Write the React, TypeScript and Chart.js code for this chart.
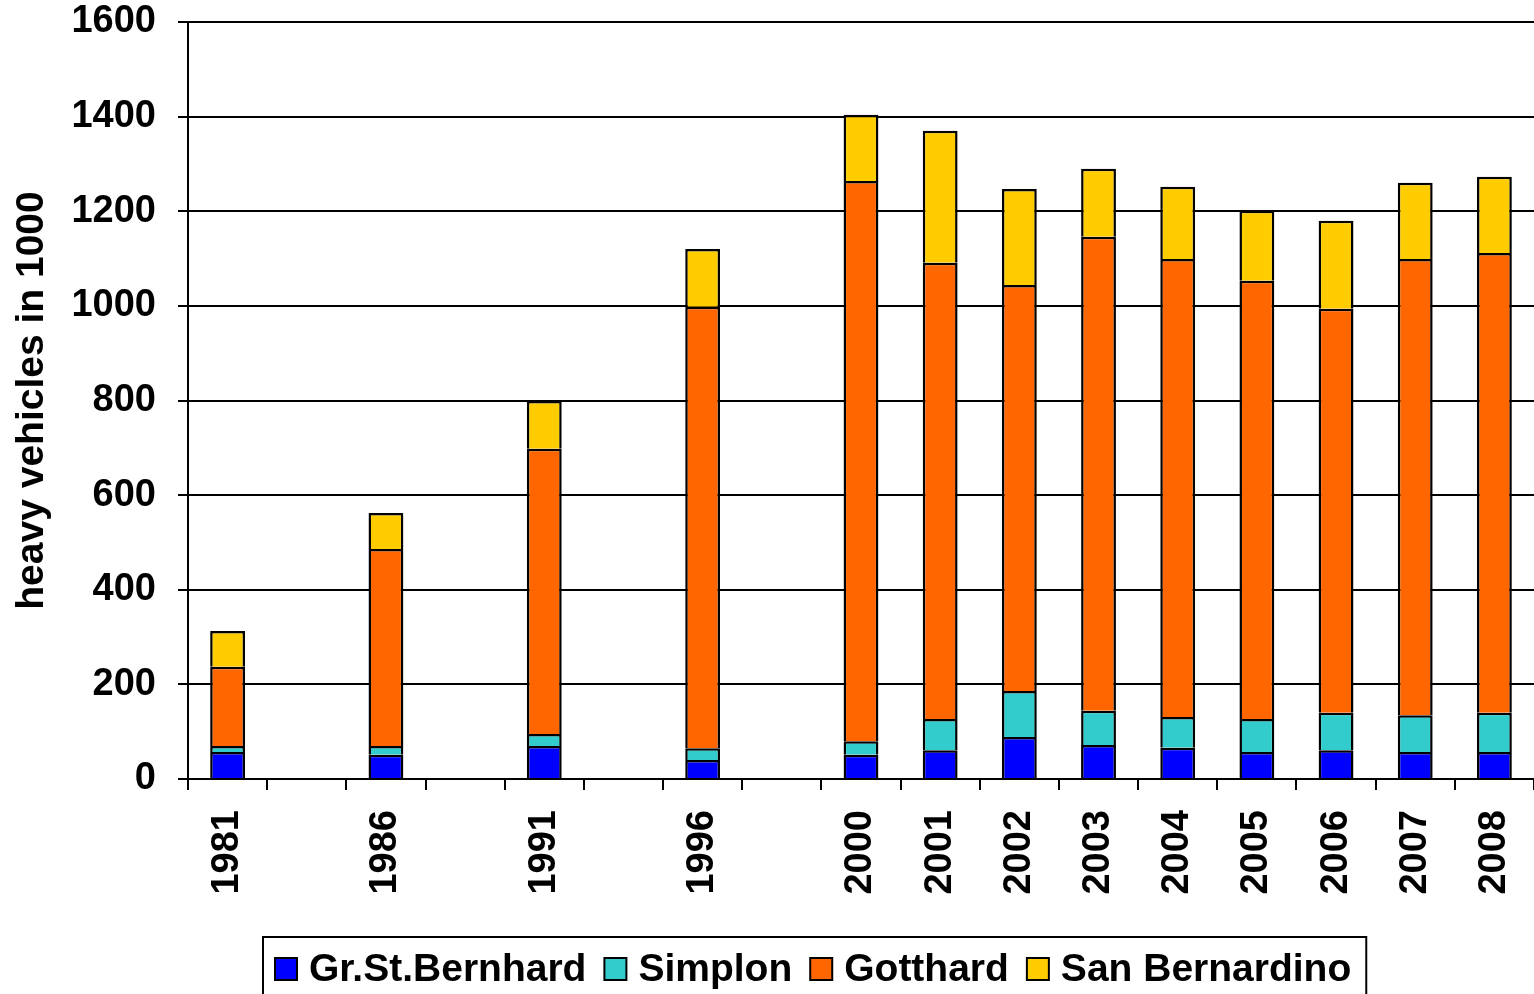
import React, { useEffect, useRef } from "react";
import { Chart, registerables } from "chart.js";

Chart.register(...registerables);

const years = ["1981", "", "1986", "", "1991", "", "1996", "", "2000", "2001", "2002", "2003", "2004", "2005", "2006", "2007", "2008"];
const grStBernhard = [57, null, 51, null, 70, null, 40, null, 51, 61, 89, 72, 66, 57, 61, 57, 57];
const simplon = [13, null, 19, null, 25, null, 25, null, 29, 66, 97, 72, 65, 70, 79, 78, 83];
const gotthard = [167, null, 416, null, 603, null, 933, null, 1184, 964, 858, 1002, 968, 926, 854, 964, 972];
const sanBernardino = [76, null, 76, null, 101, null, 122, null, 140, 279, 203, 144, 153, 148, 186, 161, 161];
const seriesNames = ["Gr.St.Bernhard", "Simplon", "Gotthard", "San Bernardino"];
const seriesColors = ["#0000FF", "#33CCCC", "#FF6600", "#FFCC00"];
const yTicks = [0, 200, 400, 600, 800, 1000, 1200, 1400, 1600];

const FONT = '"Liberation Sans", Arial, sans-serif';

const boxedLegend = {
  id: "boxedLegend",
  afterDraw(chart: any) {
    const ctx = chart.ctx;
    ctx.save();
    ctx.font = `bold 39px ${FONT}`;
    ctx.textBaseline = "middle";
    ctx.textAlign = "left";
    const left = 263;
    const top = 937;
    const cy = 969;
    let x = left + 12;
    chart.data.datasets.forEach((ds: any, i: number) => {
      ctx.fillStyle = ds.backgroundColor;
      ctx.fillRect(x, cy - 11, 22, 22);
      ctx.strokeStyle = "#000";
      ctx.lineWidth = 2;
      ctx.strokeRect(x, cy - 11, 22, 22);
      const tx = x + 34;
      ctx.fillStyle = "#000";
      ctx.fillText(ds.label, tx, cy + 1);
      const w = ctx.measureText(ds.label).width;
      x = tx + w + (i < chart.data.datasets.length - 1 ? 18 : 0);
    });
    const right = x + 15;
    ctx.strokeStyle = "#000";
    ctx.lineWidth = 2;
    ctx.strokeRect(left, top, right - left, 80);
    ctx.restore();
  },
};

export default function App() {
  const ref = useRef<HTMLCanvasElement | null>(null);
  useEffect(() => {
    document.body.style.margin = "0";
    const canvas = ref.current!;
    const values = [grStBernhard, simplon, gotthard, sanBernardino];
    const chart = new Chart(canvas, {
      type: "bar",
      data: {
        labels: years,
        datasets: values.map((v, i) => ({
          label: seriesNames[i],
          data: v,
          backgroundColor: seriesColors[i],
          borderColor: "#000",
          borderWidth: 2.5,
          borderSkipped: "start",
          inflateAmount: 0,
          barPercentage: 0.44,
          categoryPercentage: 1,
        })),
      },
      options: {
        responsive: false,
        animation: false,
        layout: { padding: { top: 0, right: 0, bottom: 57, left: 0 } },
        plugins: { legend: { display: false }, tooltip: { enabled: false } },
        scales: {
          x: {
            stacked: true,
            grid: { display: true, drawOnChartArea: false, drawTicks: true, tickLength: 11, color: "#000", lineWidth: 2, offset: true },
            border: { display: true, color: "#000", width: 2 },
            ticks: {
              autoSkip: false,
              maxRotation: 90,
              minRotation: 90,
              padding: 20,
              color: "#000",
              font: { family: FONT, size: 38, weight: "bold" },
            },
            afterFit(scale: any) {
              scale.height = 158;
              scale.paddingLeft = 0;
              scale.paddingRight = 0;
            },
          },
          y: {
            stacked: true,
            min: 0,
            max: 1600,
            afterBuildTicks(scale: any) {
              scale.ticks = yTicks.map((v) => ({ value: v }));
            },
            grid: { color: "#000", lineWidth: 2, tickLength: 10, drawTicks: true },
            border: { display: true, color: "#000", width: 2 },
            ticks: {
              padding: 22,
              color: "#000",
              font: { family: FONT, size: 38, weight: "bold" },
              callback: (v: any) => String(v),
            },
            title: {
              display: true,
              text: "heavy vehicles in 1000",
              color: "#000",
              padding: { top: 9, bottom: 0 },
              font: { family: FONT, size: 39, weight: "bold" },
            },
            afterFit(scale: any) {
              scale.width = 188;
              scale.paddingTop = 22;
              scale.paddingBottom = 0;
            },
          },
        },
      },
      plugins: [boxedLegend],
    });
    return () => chart.destroy();
  }, []);
  return <canvas ref={ref} width={1534} height={994} style={{ display: "block" }} />;
}
